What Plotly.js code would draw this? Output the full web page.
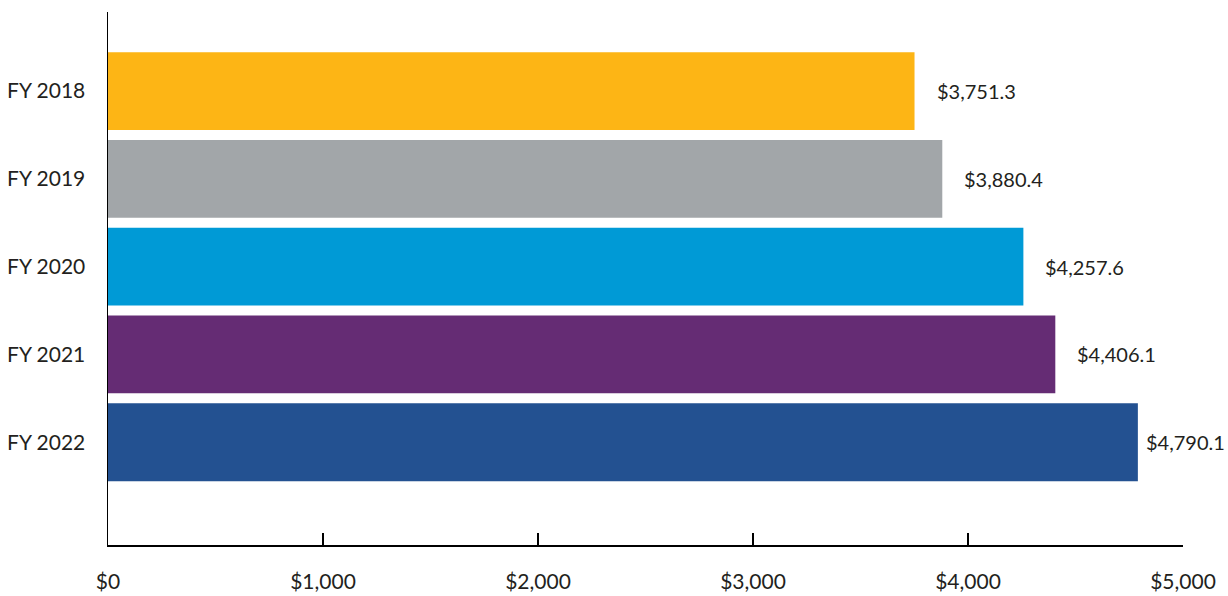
<!DOCTYPE html>
<html>
<head>
<meta charset="utf-8">
<script src="https://cdn.plot.ly/plotly-3.0.1.min.js"></script>
<style>html,body{margin:0;padding:0;background:#fff;}#chart{width:1228px;height:596px;}</style>
</head>
<body>
<div id="chart"></div>
<script>
const categories = ["FY 2018", "FY 2019", "FY 2020", "FY 2021", "FY 2022"];
const values = [3751.3, 3880.4, 4257.6, 4406.1, 4790.1];
const valueLabels = ["$3,751.3", "$3,880.4", "$4,257.6", "$4,406.1", "$4,790.1"];
const barColors = ["#FDB515", "#A2A6A9", "#009AD6", "#652C74", "#235191"];
const xTickVals = [0, 1000, 2000, 3000, 4000, 5000];
const xTickText = ["$0", "$1,000", "$2,000", "$3,000", "$4,000", "$5,000"];

const FONT = "Lato, 'Noto Sans', sans-serif";
const TXT = "#231f20";
const W = 1228, ML = 108, MR = 45;
const XMAX = 5000;
const pxPerUnit = (W - ML - MR) / XMAX;

const trace = {
  type: "bar",
  orientation: "h",
  y: categories,
  x: values,
  marker: {color: barColors, line: {width: 0}},
  hoverinfo: "none"
};

const annotations = categories.map((c, i) => {
  const endPx = ML + values[i] * pxPerUnit + 20;
  const estWidth = valueLabels[i].length * 10;
  if (endPx + estWidth > W) {
    return {
      x: 1, y: c, xref: "paper", yref: "y",
      text: valueLabels[i], showarrow: false,
      xanchor: "right", yanchor: "middle", xshift: MR - 1,
      font: {family: FONT, size: 20, color: TXT}
    };
  }
  return {
    x: values[i], y: c, xref: "x", yref: "y",
    text: valueLabels[i], showarrow: false,
    xanchor: "left", yanchor: "middle", xshift: 20,
    font: {family: FONT, size: 20, color: TXT}
  };
});

const layout = {
  width: W, height: 596,
  margin: {l: ML, r: MR, t: 12, b: 51},
  paper_bgcolor: "#fff", plot_bgcolor: "#fff",
  showlegend: false,
  bargap: 0.114,
  font: {family: FONT, size: 21, color: TXT},
  xaxis: {
    range: [0, XMAX], tickvals: xTickVals, ticktext: xTickText,
    showgrid: false, zeroline: false,
    showline: true, linecolor: "#000", linewidth: 1.5,
    ticks: "inside", ticklen: 12, tickwidth: 1.5, tickcolor: "#000",
    ticklabelstandoff: 17,
    tickfont: {family: FONT, size: 21, color: TXT},
    fixedrange: true
  },
  yaxis: {
    type: "category",
    categoryorder: "array", categoryarray: categories,
    range: [5.17, -0.9],
    showgrid: false, zeroline: false,
    showline: true, linecolor: "#000", linewidth: 1.5,
    ticks: "", ticklabelstandoff: 17,
    tickfont: {family: FONT, size: 21, color: TXT},
    fixedrange: true
  },
  annotations: annotations
};

Plotly.newPlot("chart", [trace], layout, {displayModeBar: false, staticPlot: true});
</script>
</body>
</html>
